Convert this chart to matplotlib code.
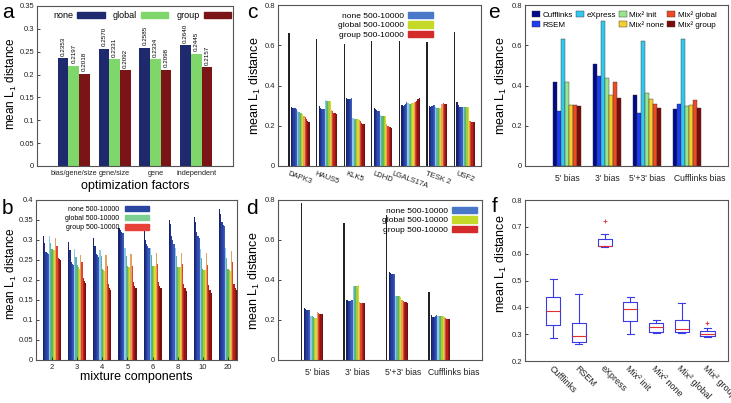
import numpy as np
import matplotlib
matplotlib.use('Agg')
import matplotlib.pyplot as plt
from matplotlib.patches import Patch

plt.rcParams['font.family'] = ['Liberation Sans', 'DejaVu Sans']
plt.rcParams['mathtext.fontset'] = 'custom'
plt.rcParams['mathtext.rm'] = 'Liberation Sans'
plt.rcParams['axes.edgecolor'] = '#555555'
plt.rcParams['axes.linewidth'] = 0.8

#=====================================================
# DATA

# a
a_factors = ['bias/gene/size', 'gene/size', 'gene', 'independent']
a_none = [0.2353, 0.2570, 0.2585, 0.2640]
a_global = [0.2197, 0.2331, 0.2334, 0.2445]
a_group = [0.2018, 0.2092, 0.2098, 0.2157]

# b (5 length ranges per method)
b_components = ['2', '3', '4', '5', '6', '8', '10', '20']
b_none = [[0.311, 0.292, 0.271, 0.267, 0.265],
          [0.296, 0.275, 0.246, 0.240, 0.238],
          [0.306, 0.285, 0.265, 0.262, 0.258],
          [0.330, 0.325, 0.320, 0.318, 0.318],
          [0.335, 0.300, 0.290, 0.285, 0.280],
          [0.350, 0.340, 0.310, 0.300, 0.290],
          [0.358, 0.345, 0.320, 0.310, 0.305],
          [0.378, 0.365, 0.345, 0.338, 0.335]]
b_global = [[0.310, 0.292, 0.277, 0.275, 0.275],
            [0.278, 0.258, 0.238, 0.232, 0.228],
            [0.275, 0.260, 0.228, 0.225, 0.222],
            [0.280, 0.260, 0.235, 0.232, 0.232],
            [0.280, 0.262, 0.235, 0.235, 0.235],
            [0.280, 0.260, 0.233, 0.233, 0.233],
            [0.278, 0.255, 0.228, 0.226, 0.225],
            [0.280, 0.255, 0.228, 0.225, 0.223]]
b_group = [[0.306, 0.285, 0.254, 0.252, 0.250],
           [0.263, 0.245, 0.205, 0.198, 0.193],
           [0.263, 0.235, 0.190, 0.180, 0.175],
           [0.265, 0.235, 0.195, 0.185, 0.180],
           [0.268, 0.240, 0.195, 0.185, 0.180],
           [0.268, 0.240, 0.190, 0.180, 0.173],
           [0.268, 0.238, 0.188, 0.175, 0.168],
           [0.273, 0.245, 0.190, 0.180, 0.175]]

# c
c_genes = ['DAPK3', 'HAUS5', 'KLK5', 'LDHD', 'LGALS17A', 'TESK 2', 'USF2']
c_base = [0.659, 0.629, 0.604, 0.622, 0.619, 0.614, 0.667]
c_none = [[0.292, 0.288, 0.288, 0.287, 0.285],
          [0.298, 0.290, 0.285, 0.283, 0.282],
          [0.336, 0.334, 0.334, 0.334, 0.336],
          [0.288, 0.282, 0.278, 0.274, 0.272],
          [0.305, 0.300, 0.305, 0.310, 0.318],
          [0.300, 0.295, 0.300, 0.302, 0.305],
          [0.318, 0.305, 0.295, 0.295, 0.295]]
c_global = [[0.275, 0.270, 0.265, 0.262, 0.260],
            [0.328, 0.325, 0.322, 0.322, 0.322],
            [0.238, 0.236, 0.236, 0.234, 0.232],
            [0.255, 0.250, 0.250, 0.248, 0.248],
            [0.312, 0.310, 0.310, 0.312, 0.315],
            [0.295, 0.290, 0.290, 0.290, 0.290],
            [0.295, 0.295, 0.295, 0.295, 0.295]]
c_group = [[0.250, 0.245, 0.232, 0.222, 0.220],
           [0.280, 0.272, 0.265, 0.262, 0.260],
           [0.228, 0.222, 0.212, 0.210, 0.210],
           [0.210, 0.200, 0.195, 0.193, 0.190],
           [0.318, 0.320, 0.325, 0.335, 0.340],
           [0.310, 0.312, 0.310, 0.308, 0.308],
           [0.225, 0.222, 0.220, 0.218, 0.218]]

# d
d_bias = ["5' bias", "3' bias", "5'+3' bias", "Cufflinks bias"]
d_base = [0.783, 0.683, 0.725, 0.342]
d_none = [[0.260, 0.255, 0.252, 0.250, 0.250],
          [0.300, 0.295, 0.293, 0.293, 0.300],
          [0.440, 0.435, 0.432, 0.430, 0.430],
          [0.225, 0.215, 0.213, 0.218, 0.225]]
d_global = [[0.222, 0.218, 0.215, 0.212, 0.210],
            [0.370, 0.370, 0.370, 0.372, 0.375],
            [0.320, 0.320, 0.318, 0.318, 0.315],
            [0.222, 0.222, 0.222, 0.222, 0.218]]
d_group = [[0.240, 0.235, 0.230, 0.228, 0.228],
           [0.290, 0.285, 0.283, 0.283, 0.283],
           [0.300, 0.295, 0.290, 0.288, 0.287],
           [0.215, 0.208, 0.205, 0.203, 0.203]]

# e (values per method, over d_bias)
e_methods = ['Cufflinks', 'RSEM', 'eXpress', 'Mix² init', 'Mix² none', 'Mix² global', 'Mix² group']
e_values = [[0.418, 0.505, 0.352, 0.285],
            [0.272, 0.447, 0.264, 0.307],
            [0.629, 0.720, 0.622, 0.629],
            [0.418, 0.438, 0.363, 0.299],
            [0.305, 0.352, 0.335, 0.305],
            [0.305, 0.418, 0.307, 0.330],
            [0.300, 0.340, 0.290, 0.290]]
e_colors = ['#000b8a', '#1e3cf5', '#33c8ee', '#97e68e', '#f5cf2a', '#f04a24', '#7d0a0a']

# f (box statistics)
f_low = [0.287, 0.265, 0.623, 0.302, 0.305, 0.305, 0.290]
f_q1 = [0.336, 0.271, 0.627, 0.348, 0.308, 0.308, 0.292]
f_med = [0.385, 0.292, 0.629, 0.393, 0.325, 0.321, 0.300]
f_q3 = [0.439, 0.342, 0.653, 0.420, 0.342, 0.354, 0.312]
f_high = [0.507, 0.449, 0.675, 0.439, 0.354, 0.418, 0.324]
f_fliers = [[], [], [0.722], [], [], [], [0.343]]

# gradient colours for the 15 bars (none / global / group)
grad = ['#16226b', '#1f3189', '#27409f', '#2f4eb0', '#3a5cbd',
        '#8fc8e6', '#5fb3a6', '#5cb85a', '#a6cc3a', '#d9d92e',
        '#e3a35f', '#e0452e', '#b8221c', '#921515', '#701010']

ylab = 'mean L$_1$ distance'

#=====================================================

W, H = 731, 403
fig = plt.figure(figsize=(W / 100, H / 100), dpi=100)


def box(l, r, t, b):
    return [l / W, 1 - b / H, (r - l) / W, (b - t) / H]


def style(ax, rect, xpx, ypx, fs=9):
    # rect = (l, r, t, b) in pixels, ylabel placed at pixel (xpx, ypx)
    l, r, t, b = rect
    ax.tick_params(direction='in', length=2, width=0.6, labelsize=5.5, colors='#222222', pad=2)
    ax.set_ylabel(ylab, fontsize=fs)
    ax.yaxis.set_label_coords((xpx - l) / (r - l), (b - ypx) / (b - t))


def letter(x, y, s):
    fig.text(x / W, 1 - y / H, s, fontsize=15, ha='left', va='center')


# ---- a
ra = (37, 233, 6, 166)
ax = fig.add_axes(box(*ra))
x = np.arange(1, 5)
bw = 0.26
for off, vals, col in [(-bw, a_none, '#1f2a6e'), (0, a_global, '#7fd66a'), (bw, a_group, '#7a1416')]:
    ax.bar(x + off, vals, bw, color=col, linewidth=0)
    for xi, v in zip(x + off, vals):
        ax.text(xi, v + 0.006, '%.4f' % v, rotation=90, ha='center', va='bottom', fontsize=4.5)
ax.set_xlim(0.1, 4.9)
ax.set_ylim(0, 0.35)
ax.set_yticks(np.arange(0, 0.36, 0.05))
ax.set_yticklabels(['0', '0.05', '0.1', '0.15', '0.2', '0.25', '0.3', '0.35'])
ax.set_xticks(x)
ax.set_xticklabels(a_factors)
style(ax, ra, 19, 84, fs=8.5)
ax.tick_params(axis='x', length=0, pad=3, labelsize=5.3)
ax.set_xlabel('optimization factors', fontsize=9, labelpad=2)
hand = [Patch(color='#1f2a6e'), Patch(color='#7fd66a'), Patch(color='#7a1416')]
ax.legend(hand, ['none', 'global', 'group'], ncol=3, markerfirst=False, frameon=False,
          fontsize=6.5, handlelength=3.0, handleheight=0.6, handletextpad=0.5,
          columnspacing=0.9, loc='upper right', bbox_to_anchor=(1.01, 0.99), borderaxespad=0)
letter(2, 12, 'a')

# ---- b
rb = (36, 237, 200, 360)
ax = fig.add_axes(box(*rb))
w = 0.048
for i in range(len(b_components)):
    vals = b_none[i] + b_global[i] + b_group[i]
    ax.bar(i - 0.36 + np.arange(15) * w, vals, w, color=grad, linewidth=0, align='edge')
ax.set_xlim(-0.64, 7.36)
ax.set_ylim(0, 0.4)
ax.set_yticks(np.arange(0, 0.41, 0.05))
ax.set_yticklabels(['0', '0.05', '0.1', '0.15', '0.2', '0.25', '0.3', '0.35', '0.4'])
ax.set_xticks(range(len(b_components)))
ax.set_xticklabels(b_components)
style(ax, rb, 19, 274, fs=8.5)
ax.tick_params(axis='x', pad=3)
ax.set_xlabel('mixture components', fontsize=9, labelpad=0)
hand = [Patch(color='#2a46a0'), Patch(color='#7ccf90'), Patch(color='#e8413a')]
ax.legend(hand, ['none 500-10000', 'global 500-10000', 'group 500-10000'], markerfirst=False,
          frameon=False, fontsize=5, handlelength=3.5, handleheight=0.8, labelspacing=0.3,
          loc='upper left', bbox_to_anchor=(0.13, 0.98), borderaxespad=0)
letter(2, 208, 'b')

# ---- c
rc = (278, 481, 5, 166)
ax = fig.add_axes(box(*rc))
w = 0.045
for i in range(len(c_genes)):
    ax.bar(i, c_base[i], 0.05, color='#222222', linewidth=0)
    vals = c_none[i] + c_global[i] + c_group[i]
    ax.bar(i + 0.07 + np.arange(15) * w, vals, w, color=grad, linewidth=0, align='edge')
ax.set_xlim(-0.4, 6.96)
ax.set_ylim(0, 0.8)
ax.set_yticks([0, 0.2, 0.4, 0.6, 0.8])
ax.set_yticklabels(['0', '0.2', '0.4', '0.6', '0.8'])
ax.set_xticks(np.arange(len(c_genes)) + 0.38)
ax.set_xticklabels(c_genes, rotation=-20, ha='center')
style(ax, rc, 263, 86)
ax.tick_params(axis='x', length=0, pad=3)
hand = [Patch(color='#4a78c8'), Patch(color='#c5d928'), Patch(color='#d42a2a')]
ax.legend(hand, ['none 500-10000', 'global 500-10000', 'group 500-10000'], markerfirst=False,
          frameon=False, fontsize=6, handlelength=2.9, handleheight=0.8, labelspacing=0.2,
          handletextpad=0.5, loc='upper left', bbox_to_anchor=(0.28, 0.98), borderaxespad=0)
letter(247, 12, 'c')

# ---- d
rd = (278, 482, 200, 360)
ax = fig.add_axes(box(*rd))
w = 0.03
for i in range(len(d_bias)):
    ax.bar(i, d_base[i], 0.035, color='#222222', linewidth=0)
    vals = d_none[i] + d_global[i] + d_group[i]
    ax.bar(i + 0.05 + np.arange(15) * w, vals, w, color=grad, linewidth=0, align='edge')
ax.set_xlim(-0.56, 4.25)
ax.set_ylim(0, 0.8)
ax.set_yticks([0, 0.2, 0.4, 0.6, 0.8])
ax.set_yticklabels(['0', '0.2', '0.4', '0.6', '0.8'])
ax.set_xticks(np.arange(len(d_bias)) + np.array([0.37, 0.31, 0.4, 0.58]))
ax.set_xticklabels(d_bias)
style(ax, rd, 262, 281)
ax.tick_params(axis='x', length=0, labelsize=6.2, pad=6)
ax.legend(hand, ['none 500-10000', 'global 500-10000', 'group 500-10000'], markerfirst=False,
          frameon=False, fontsize=6, handlelength=2.9, handleheight=0.8, labelspacing=0.2,
          handletextpad=0.5, loc='upper right', bbox_to_anchor=(0.99, 0.98), borderaxespad=0)
letter(246, 209, 'd')

# ---- e
re_ = (525, 728, 5, 166)
ax = fig.add_axes(box(*re_))
x = np.arange(len(d_bias))
bw = 0.1
for k, (name, vals) in enumerate(zip(e_methods, e_values)):
    ax.bar(x + (k - 3) * bw, vals, bw, color=e_colors[k], edgecolor='#333333', linewidth=0.3, label=name)
ax.set_xlim(-1.05, 4.03)
ax.set_ylim(0, 0.8)
ax.set_yticks([0, 0.2, 0.4, 0.6, 0.8])
ax.set_yticklabels(['0', '0.2', '0.4', '0.6', '0.8'])
ax.set_xticks(x + np.array([0, 0, 0, 0.32]))
ax.set_xticklabels(d_bias)
style(ax, re_, 509, 86)
ax.tick_params(axis='x', length=0, labelsize=6.2, pad=6)
hh, ll = ax.get_legend_handles_labels()
blank = Patch(color='none')
order_h = [hh[0], hh[1], hh[2], blank, hh[3], hh[4], hh[5], hh[6]]
order_l = [ll[0], ll[1], ll[2], '', ll[3], ll[4], ll[5], ll[6]]
ax.legend(order_h, order_l, ncol=4, frameon=False, fontsize=5.8, handlelength=1.0,
          handleheight=0.8, handletextpad=0.3, columnspacing=0.35, labelspacing=0.35,
          loc='upper left', bbox_to_anchor=(0.02, 0.985), borderaxespad=0)
letter(488, 12, 'e')

# ---- f
rf = (525, 728, 200, 361)
ax = fig.add_axes(box(*rf))
stats = []
for i, name in enumerate(e_methods):
    stats.append(dict(label=name, whislo=f_low[i], q1=f_q1[i], med=f_med[i],
                      q3=f_q3[i], whishi=f_high[i], fliers=f_fliers[i]))
bl = '#3a3ae6'
ax.bxp(stats, positions=range(1, 8), widths=0.55, showfliers=True,
       boxprops=dict(color=bl, linewidth=0.8),
       whiskerprops=dict(color=bl, linewidth=0.8),
       capprops=dict(color=bl, linewidth=0.8),
       medianprops=dict(color='#e03030', linewidth=0.8),
       flierprops=dict(marker='+', markeredgecolor='#e03030', markersize=3, markeredgewidth=0.6))
ax.set_xlim(-0.1, 7.8)
ax.set_ylim(0.2, 0.8)
ax.set_yticks(np.arange(0.2, 0.81, 0.1))
ax.set_yticklabels(['0.2', '0.3', '0.4', '0.5', '0.6', '0.7', '0.8'])
style(ax, rf, 509, 264)
ax.set_xticks(range(1, 8))
ax.set_xticklabels(e_methods, rotation=-45, ha='left', va='top', rotation_mode='anchor', fontsize=6.5)
ax.tick_params(axis='x', length=0, labelsize=6.5)
letter(492, 207, 'f')

fig.savefig('out.png', dpi=100)
